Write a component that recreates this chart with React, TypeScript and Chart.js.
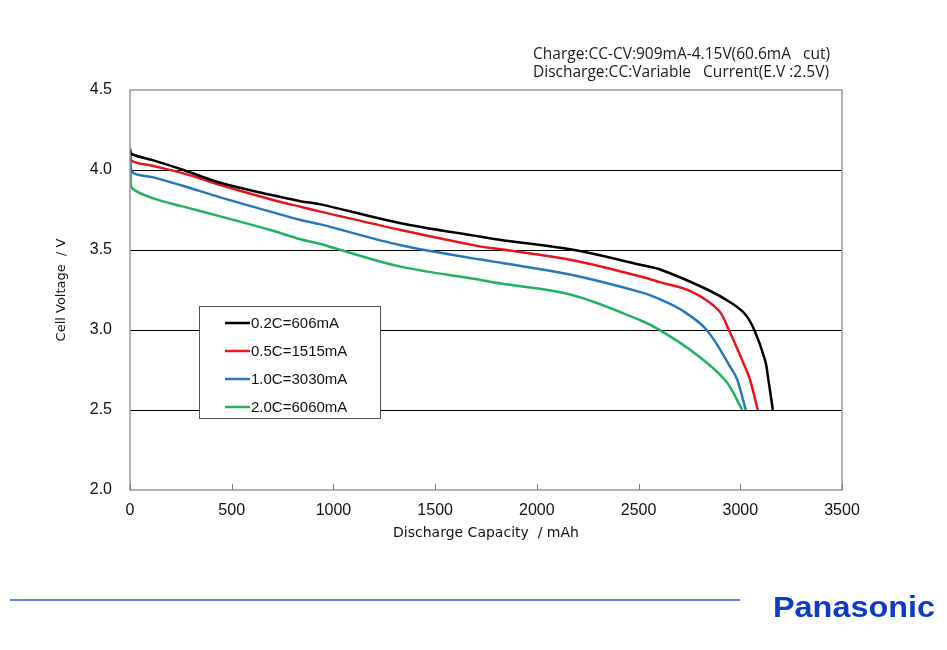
import React, { useEffect, useRef } from "react";
import { Chart, registerables } from "chart.js";

Chart.register(...registerables);

// ---- data ----
const seriesLabels = ["0.2C=606mA", "0.5C=1515mA", "1.0C=3030mA", "2.0C=6060mA"];
const seriesColors = ["#000000", "#e8141c", "#2677bb", "#21b15f"];

const cap02 = [0, 8, 115, 263, 444, 690, 838, 937, 1331, 1725, 1823, 2185, 2514, 2613, 2843, 2958, 3023, 3069, 3122, 3138, 3160];
const volt02 = [4.13, 4.1, 4.06, 4.0, 3.92, 3.845, 3.805, 3.785, 3.667, 3.583, 3.563, 3.5, 3.406, 3.375, 3.25, 3.167, 3.1, 3.0, 2.81, 2.69, 2.5];

const cap05 = [0, 8, 115, 263, 444, 690, 838, 937, 1331, 1725, 1823, 2169, 2514, 2613, 2760, 2892, 2944, 3030, 3048, 3086];
const volt05 = [4.11, 4.058, 4.025, 3.979, 3.906, 3.817, 3.77, 3.74, 3.625, 3.521, 3.504, 3.4375, 3.333, 3.296, 3.24, 3.125, 3.0, 2.75, 2.69, 2.5];

const cap10 = [0, 8, 115, 263, 444, 690, 838, 937, 1331, 1725, 1823, 2169, 2514, 2613, 2711, 2835, 2960, 2985, 3027];
const volt10 = [4.12, 3.99, 3.954, 3.9, 3.829, 3.74, 3.6875, 3.66, 3.53, 3.44, 3.42, 3.345, 3.235, 3.1875, 3.125, 3.0, 2.75, 2.69, 2.5];

const cap20 = [0, 4, 10, 115, 263, 444, 690, 838, 937, 1035, 1331, 1725, 1823, 2169, 2514, 2604, 2760, 2925, 3010];
const volt20 = [4.14, 3.95, 3.886, 3.823, 3.771, 3.71, 3.625, 3.567, 3.5375, 3.5, 3.396, 3.3125, 3.29, 3.22, 3.058, 3.0, 2.87, 2.6875, 2.5];

const capacities = [cap02, cap05, cap10, cap20];
const voltages = [volt02, volt05, volt10, volt20];

const xMin = 0;
const xMax = 3500;
const xStep = 500;
const yMin = 2.0;
const yMax = 4.5;
const yStep = 0.5;

const xTitle = "Discharge Capacity  / mAh";
const yTitle = "Cell Voltage  / V";
const noteLines = ["Charge:CC-CV:909mA-4.15V(60.6mA   cut)", "Discharge:CC:Variable   Current(E.V :2.5V)"];
const brand = "Panasonic";

// ---- layout / style (not data) ----
const W = 947;
const H = 650;
const legendBox = { x: 199, y: 306, w: 181, h: 112, rowStart: 17, rowStep: 28 };

const decor = {
  id: "decor",
  beforeDraw(chart: any) {
    const { ctx, width, height } = chart;
    ctx.save();
    ctx.fillStyle = "#ffffff";
    ctx.fillRect(0, 0, width, height);
    ctx.restore();
  },
  afterDatasetsDraw(chart: any) {
    const { ctx, chartArea: a, scales } = chart;
    ctx.save();
    // frame
    ctx.strokeStyle = "#9a9a9a";
    ctx.lineWidth = 1.5;
    ctx.strokeRect(a.left, a.top, a.right - a.left, a.bottom - a.top);
    // inward x ticks
    const xs = scales.x;
    ctx.lineWidth = 1;
    ctx.strokeStyle = "#7a7a7a";
    xs.ticks.forEach((t: any) => {
      const px = Math.round(xs.getPixelForValue(t.value)) + 0.5;
      ctx.beginPath();
      ctx.moveTo(px, a.bottom);
      ctx.lineTo(px, a.bottom - 6);
      ctx.stroke();
    });
    // legend
    const lb = legendBox;
    ctx.fillStyle = "#ffffff";
    ctx.fillRect(lb.x, lb.y, lb.w, lb.h);
    ctx.strokeStyle = "#505050";
    ctx.lineWidth = 1;
    ctx.strokeRect(lb.x + 0.5, lb.y + 0.5, lb.w, lb.h);
    ctx.font = '15px "Liberation Sans", Arial, sans-serif';
    ctx.textBaseline = "middle";
    ctx.textAlign = "left";
    chart.data.datasets.forEach((ds: any, i: number) => {
      const y = lb.y + lb.rowStart + i * lb.rowStep;
      ctx.strokeStyle = ds.borderColor;
      ctx.lineWidth = 2.5;
      ctx.beginPath();
      ctx.moveTo(lb.x + 26, y);
      ctx.lineTo(lb.x + 51, y);
      ctx.stroke();
      ctx.fillStyle = "#111111";
      ctx.fillText(ds.label, lb.x + 52, y + 0.5);
    });
    ctx.restore();
  },
  afterDraw(chart: any) {
    const { ctx } = chart;
    ctx.save();
    // notes
    ctx.fillStyle = "#1a1a1a";
    ctx.font = '15.5px "Open Sans", sans-serif';
    ctx.textBaseline = "middle";
    ctx.textAlign = "left";
    ctx.fillText(noteLines[0], 533, 55);
    ctx.fillText(noteLines[1], 533, 73);
    // bottom rule
    ctx.strokeStyle = "#5b86d6";
    ctx.lineWidth = 2;
    ctx.beginPath();
    ctx.moveTo(10, 600);
    ctx.lineTo(740, 600);
    ctx.stroke();
    // brand
    ctx.font = 'bold 30px "Liberation Sans", Arial, sans-serif';
    ctx.fillStyle = "#0d3cc4";
    ctx.textBaseline = "alphabetic";
    const m = ctx.measureText(brand).width;
    const target = 162;
    ctx.translate(773, 617);
    ctx.scale(target / m, 1);
    ctx.fillText(brand, 0, 0);
    ctx.restore();
  },
};

export default function App() {
  const canvasRef = useRef<HTMLCanvasElement | null>(null);

  useEffect(() => {
    if (!canvasRef.current) return;
    const datasets = seriesLabels.map((label, i) => ({
      label,
      data: capacities[i].map((c, j) => ({ x: c, y: voltages[i][j] })),
      borderColor: seriesColors[i],
      backgroundColor: seriesColors[i],
      borderWidth: 2.5,
      pointRadius: 0,
      tension: 0.35,
      fill: false,
    }));

    const chart = new Chart(canvasRef.current, {
      type: "line",
      data: { datasets },
      plugins: [decor],
      options: {
        responsive: false,
        animation: false,
        devicePixelRatio: 1,
        layout: { padding: { left: 0, top: 90, right: W - 842, bottom: 100 } },
        plugins: {
          legend: { display: false },
          tooltip: { enabled: false },
          title: { display: false },
        },
        scales: {
          x: {
            type: "linear",
            min: xMin,
            max: xMax,
            afterFit(scale: any) {
              scale.height = 60;
            },
            ticks: {
              stepSize: xStep,
              color: "#111111",
              padding: 11,
              maxRotation: 0,
              font: { family: '"Liberation Sans", Arial, sans-serif', size: 16 },
              callback: (v: any) => String(v),
            },
            grid: { display: false, drawTicks: false },
            border: { display: false },
            title: {
              display: true,
              text: xTitle,
              color: "#111111",
              font: { family: '"DejaVu Sans", sans-serif', size: 14 },
              padding: { top: 0, bottom: 8 },
            },
          },
          y: {
            type: "linear",
            min: yMin,
            max: yMax,
            afterFit(scale: any) {
              scale.width = 130;
            },
            ticks: {
              stepSize: yStep,
              color: "#111111",
              padding: 18,
              font: { family: '"Liberation Sans", Arial, sans-serif', size: 16 },
              callback: (v: any) => Number(v).toFixed(1),
            },
            grid: {
              drawTicks: false,
              lineWidth: 1,
              color: (ctx: any) => {
                const v = ctx.tick ? ctx.tick.value : null;
                return v === yMin || v === yMax ? "rgba(0,0,0,0)" : "#000000";
              },
            },
            border: { display: false },
            title: {
              display: true,
              text: yTitle,
              color: "#111111",
              font: { family: '"DejaVu Sans", sans-serif', size: 13 },
              padding: { top: 54, bottom: 0 },
            },
          },
        },
      },
    });
    return () => chart.destroy();
  }, []);

  return (
    <div style={{ position: "fixed", left: 0, top: 0, width: W, height: H, background: "#fff" }}>
      <canvas ref={canvasRef} width={W} height={H} style={{ width: W, height: H, display: "block" }} />
    </div>
  );
}
